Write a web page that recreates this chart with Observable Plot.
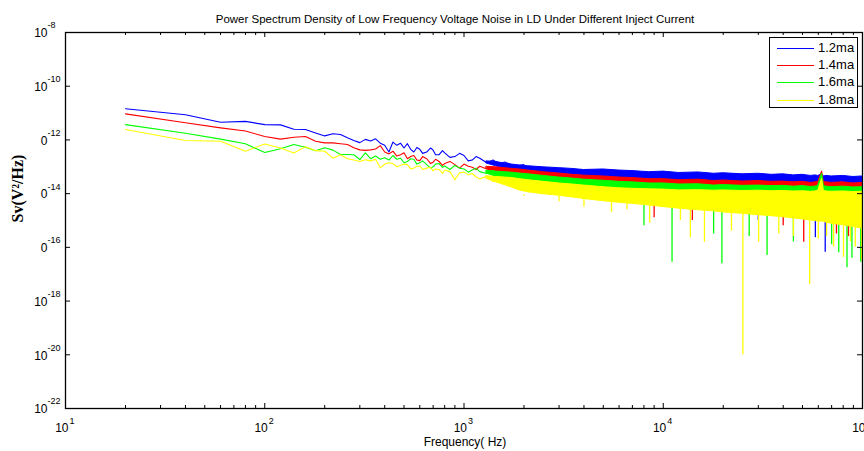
<!DOCTYPE html>
<html><head><meta charset="utf-8">
<script src="https://cdn.jsdelivr.net/npm/d3@7"></script>
<script src="https://cdn.jsdelivr.net/npm/@observablehq/plot@0.6"></script>
<style>
body{margin:0;background:#fff;}
#wrap{position:relative;width:864px;height:451px;overflow:hidden;}
#legend{position:absolute;left:769px;top:37px;width:87px;height:69px;border:1px solid #000;background:#fff;font:13px "Liberation Sans",Arial,sans-serif;}
.row{position:absolute;left:0;height:16px;width:87px;}
.sw{position:absolute;left:7px;top:8px;width:37px;height:0;border-top:1.3px solid;}
.lb{position:absolute;left:48px;top:0;line-height:16px;color:#000;}
</style></head><body><div id="wrap"></div>
<script>
// ---------- data (log10 of Sv in V^2/Hz) ----------
const title = "Power Spectrum Density of Low Frequency Voltage Noise in LD Under Different Inject Current";
const xLabel = "Frequency( Hz)";
const yLabel = "Sv(V\u00B2/Hz)";
const series = ["1.2ma", "1.4ma", "1.6ma", "1.8ma"];
const colors = ["#0000ff", "#ff0000", "#00ff00", "#ffff00"];

const lineF = [20,40,60,80,100,120,140,160,180,200,220,240,260,280,300,320,340,360,380,400,
  420,440,460,480,500,520,540,560,580,600,620,650,680,700,720,750,780,800,850,900,950,1000,1050,1100,1150,1200,1300,1400,1500,1600,1800,2000];
const blueLine = [-10.84,-11.06,-11.34,-11.31,-11.43,-11.44,-11.60,-11.61,-11.74,-11.85,-11.77,-11.80,-11.92,-12.02,-12.10,-11.98,-12.04,-11.96,-12.12,-12.20,
  -12.45,-12.08,-12.20,-12.12,-12.30,-12.14,-12.35,-12.45,-12.28,-12.35,-12.50,-12.45,-12.30,-12.38,-12.55,-12.55,-12.40,-12.48,-12.65,-12.62,-12.50,-12.58,-12.78,-12.75,-12.62,-12.68,-12.85,-12.75,-12.90,-12.82,-12.98,-12.92];
const redLine = [-11.03,-11.36,-11.55,-11.67,-11.87,-11.97,-11.90,-11.87,-12.05,-12.11,-12.11,-12.14,-12.17,-12.29,-12.37,-12.39,-12.37,-12.34,-12.21,-12.45,
  -12.52,-12.42,-12.60,-12.55,-12.48,-12.70,-12.62,-12.58,-12.75,-12.77,-12.62,-12.70,-12.88,-12.83,-12.72,-12.80,-12.95,-12.88,-12.80,-12.92,-13.05,-12.90,-12.98,-13.02,-13.10,-12.98,-13.08,-13.15,-13.05,-13.20,-13.12,-13.22];
const greenLine = [-11.43,-11.75,-11.97,-12.14,-12.47,-12.33,-12.17,-12.27,-12.40,-12.29,-12.38,-12.54,-12.54,-12.55,-12.73,-12.48,-12.70,-12.60,-12.72,-12.66,
  -12.75,-12.58,-12.72,-12.68,-12.85,-12.80,-12.70,-12.72,-12.90,-12.85,-12.78,-12.92,-13.05,-13.00,-12.90,-12.88,-13.02,-12.97,-13.10,-12.95,-13.05,-13.08,-13.20,-13.12,-13.05,-13.18,-13.25,-13.15,-13.28,-13.22,-13.35,-13.30];
const yellowLine = [-11.61,-12.02,-12.05,-12.42,-12.15,-12.30,-12.49,-12.25,-12.40,-12.42,-12.68,-12.55,-12.70,-12.75,-12.80,-12.74,-12.78,-12.72,-13.04,-12.90,
  -12.85,-12.88,-13.00,-12.95,-12.90,-12.92,-13.08,-13.05,-12.98,-12.97,-13.10,-13.05,-13.02,-13.15,-13.08,-13.10,-13.25,-13.12,-13.18,-13.48,-13.22,-13.20,-13.30,-13.25,-13.38,-13.45,-13.35,-13.55,-13.42,-13.50,-13.62,-13.55];

// dense high-frequency noise: envelope of each trace
const bandF = [1300,1450,1600,1750,1900,2100,2500,3000,3500,4000,5000,6000,7000,8500,10000,12000,15000,18000,20000,25000,30000,35000,40000,45000,50000,55000,58000,60000,62700,64000,66000,70000,80000,90000,100000];
const blueTop = [-12.80,-12.82,-12.88,-12.92,-12.95,-12.98,-13.02,-13.05,-13.08,-13.12,-13.10,-13.14,-13.16,-13.20,-13.18,-13.23,-13.21,-13.26,-13.24,-13.28,-13.26,-13.30,-13.28,-13.32,-13.30,-13.34,-13.32,-13.34,-13.28,-13.36,-13.34,-13.36,-13.34,-13.38,-13.36];
const blueBot = [-12.88,-12.98,-13.10,-13.25,-13.35,-13.45,-13.50,-13.55,-13.60,-13.62,-13.65,-13.70,-13.72,-13.75,-13.78,-13.80,-13.82,-13.84,-13.85,-13.86,-13.88,-13.90,-13.90,-13.92,-13.92,-13.94,-13.94,-13.95,-13.95,-13.96,-13.96,-13.97,-13.98,-14.00,-14.00];
const redTop = [-13.00,-13.02,-13.05,-13.08,-13.10,-13.14,-13.20,-13.25,-13.30,-13.33,-13.36,-13.40,-13.42,-13.46,-13.46,-13.50,-13.48,-13.53,-13.51,-13.55,-13.53,-13.56,-13.55,-13.58,-13.56,-13.60,-13.58,-13.56,-13.17,-13.58,-13.58,-13.60,-13.58,-13.62,-13.60];
const redBot = [-13.08,-13.18,-13.30,-13.42,-13.55,-13.65,-13.70,-13.75,-13.80,-13.82,-13.85,-13.90,-13.92,-13.95,-13.98,-14.00,-14.02,-14.04,-14.05,-14.06,-14.08,-14.10,-14.10,-14.12,-14.12,-14.14,-14.14,-14.15,-14.15,-14.16,-14.16,-14.17,-14.18,-14.20,-14.20];
const greenTop = [-13.15,-13.18,-13.20,-13.22,-13.25,-13.28,-13.34,-13.40,-13.44,-13.48,-13.52,-13.56,-13.58,-13.62,-13.62,-13.66,-13.65,-13.70,-13.68,-13.71,-13.70,-13.72,-13.71,-13.74,-13.72,-13.75,-13.74,-13.70,-13.25,-13.72,-13.74,-13.76,-13.74,-13.77,-13.76];
const greenBot = [-13.25,-13.38,-13.50,-13.62,-13.75,-13.88,-13.95,-14.02,-14.08,-14.14,-14.22,-14.28,-14.32,-14.38,-14.44,-14.50,-14.56,-14.60,-14.62,-14.68,-14.72,-14.76,-14.80,-14.84,-14.88,-14.92,-14.94,-14.95,-14.95,-14.96,-14.98,-15.02,-15.08,-15.14,-15.20];
const yellowTop = [-13.35,-13.38,-13.40,-13.42,-13.46,-13.50,-13.56,-13.62,-13.66,-13.70,-13.76,-13.80,-13.82,-13.84,-13.85,-13.88,-13.87,-13.89,-13.88,-13.90,-13.89,-13.91,-13.90,-13.92,-13.91,-13.93,-13.92,-13.88,-13.45,-13.90,-13.92,-13.93,-13.92,-13.94,-13.93];
const yellowBot = [-13.45,-13.58,-13.68,-13.78,-13.88,-13.95,-14.02,-14.08,-14.14,-14.20,-14.28,-14.34,-14.38,-14.44,-14.50,-14.56,-14.62,-14.66,-14.70,-14.75,-14.80,-14.84,-14.88,-14.92,-14.96,-15.00,-15.02,-15.04,-15.04,-15.05,-15.08,-15.12,-15.18,-15.24,-15.30];

// deep downward spikes [frequency Hz, log10 Sv]
const spikeStart = -14.1;
const blueSpikes = [[58000,-15.64],[65000,-16.18],[95000,-15.3],[30000,-15.0]];
const redSpikes = [[50700,-15.81],[40000,-15.2],[74000,-15.5],[14000,-15.0],[85000,-15.6],[9000,-14.9]];
const greenSpikes = [[11070,-16.55],[19700,-16.61],[33200,-16.30],[83600,-16.76],[88500,-16.41],[98000,-16.55],[17900,-15.5],[8000,-15.2],[27000,-15.6],[45000,-15.8],[70000,-15.9],[76000,-16.2]];
const yellowSpikes = [[25100,-20.0],[54300,-17.38],[13680,-15.64],[16100,-15.81],[8550,-15.10],[30100,-15.81],[71600,-15.99],[80300,-16.37],[99000,-16.49],[6580,-14.6],[12200,-15.0],[45000,-15.6],[22000,-15.4],[38000,-15.5],[92000,-16.0],[4000,-14.5],[3000,-14.3],[2000,-14.05],[5500,-14.7],[60000,-15.7],[66000,-15.6],[87000,-15.8]];

const xTickExp = [1,2,3,4,5];
const yTickExp = [-8,-10,-12,-14,-16,-18,-20,-22];
const yTickBase = ["10","10","0","0","0","10","10","10"];

// ---------- build ----------
const lines = [blueLine, redLine, greenLine, yellowLine];
const tops = [blueTop, redTop, greenTop, yellowTop];
const bots = [blueBot, redBot, greenBot, yellowBot];
const spikes = [blueSpikes, redSpikes, greenSpikes, yellowSpikes];

const W = 864, H = 451, mL = 65, mR = 2, mT = 32, mB = 43;
const fw = W - mL - mR, fh = H - mT - mB;

const dataMarks = [];
series.forEach((s, i) => {
  const band = bandF.map((f, j) => ({f, hi: 10 ** tops[i][j], lo: 10 ** bots[i][j]}));
  const ln = lineF.map((f, j) => ({f, v: 10 ** lines[i][j]}));
  const sp = spikes[i].map(([f, v]) => ({f, a: 10 ** spikeStart, b: 10 ** v}));
  dataMarks.push(Plot.areaY(band, {x: "f", y1: "lo", y2: "hi", fill: colors[i], stroke: colors[i], strokeWidth: 1, clip: true}));
  dataMarks.push(Plot.line(ln, {x: "f", y: "v", stroke: colors[i], strokeWidth: 1.1, clip: true}));
  dataMarks.push(Plot.ruleX(sp, {x: "f", y1: "a", y2: "b", stroke: colors[i], strokeWidth: 1.3, clip: true}));
});

const majorX = xTickExp.map(e => 10 ** e);
const minorX = [];
for (let e = 1; e < 5; e++) for (let k = 2; k <= 9; k++) minorX.push(k * 10 ** e);
const majorY = yTickExp.map(e => 10 ** e);

const font = "'Liberation Sans', Arial, sans-serif";
const chart = Plot.plot({
  width: W, height: H, marginLeft: mL, marginRight: mR, marginTop: mT, marginBottom: mB,
  x: {type: "log", domain: [10, 1e5], axis: null},
  y: {type: "log", domain: [1e-22, 1e-8], axis: null},
  style: {fontFamily: font, background: "#fff", color: "#000"},
  marks: [
    ...dataMarks,
    Plot.tickX(minorX, {x: d => d, insetTop: fh - 3, stroke: "#000"}),
    Plot.tickX(minorX, {x: d => d, insetBottom: fh - 3, stroke: "#000"}),
    Plot.tickX(majorX, {x: d => d, insetTop: fh - 5, stroke: "#000"}),
    Plot.tickX(majorX, {x: d => d, insetBottom: fh - 5, stroke: "#000"}),
    Plot.tickY(majorY, {y: d => d, insetRight: fw - 5, stroke: "#000"}),
    Plot.tickY(majorY, {y: d => d, insetLeft: fw - 5, stroke: "#000"}),
    Plot.frame({stroke: "#000", strokeWidth: 1.3}),
    Plot.text(xTickExp, {x: d => 10 ** d, text: () => "10", frameAnchor: "bottom", textAnchor: "end", lineAnchor: "bottom", dx: 3, dy: 23, fontSize: 12, fill: "#000"}),
    Plot.text(xTickExp, {x: d => 10 ** d, text: d => String(d), frameAnchor: "bottom", textAnchor: "start", lineAnchor: "bottom", dx: 4, dy: 15, fontSize: 9, fill: "#000"}),
    Plot.text(yTickExp, {y: d => 10 ** d, text: (d, i) => yTickBase[i], frameAnchor: "left", textAnchor: "end", lineAnchor: "middle", dx: -18, dy: 1, fontSize: 12, fill: "#000"}),
    Plot.text(yTickExp, {y: d => 10 ** d, text: d => String(d), frameAnchor: "left", textAnchor: "start", lineAnchor: "middle", dx: -18, dy: -7, fontSize: 9, fill: "#000"}),
    Plot.text([title], {text: d => d, frameAnchor: "top", lineAnchor: "bottom", dx: -9, dy: -10, fontSize: 11.5, fill: "#000"}),
    Plot.text([xLabel], {text: d => d, frameAnchor: "bottom", lineAnchor: "bottom", dx: 1, dy: 37, fontSize: 12, fill: "#000"}),
    Plot.text([yLabel], {text: d => d, frameAnchor: "left", rotate: -90, lineAnchor: "middle", dx: -48, dy: 2, fontSize: 16, fontWeight: "bold", fontFamily: "'Liberation Serif', 'Times New Roman', serif", fill: "#000"})
  ]
});

const wrap = document.getElementById("wrap");
wrap.appendChild(chart);

const leg = document.createElement("div");
leg.id = "legend";
series.forEach((s, i) => {
  const row = document.createElement("div");
  row.className = "row";
  row.style.top = (2 + i * 17.2) + "px";
  const sw = document.createElement("div");
  sw.className = "sw";
  sw.style.borderTopColor = colors[i];
  const lb = document.createElement("div");
  lb.className = "lb";
  lb.textContent = s;
  row.appendChild(sw); row.appendChild(lb);
  leg.appendChild(row);
});
wrap.appendChild(leg);
</script></body></html>
